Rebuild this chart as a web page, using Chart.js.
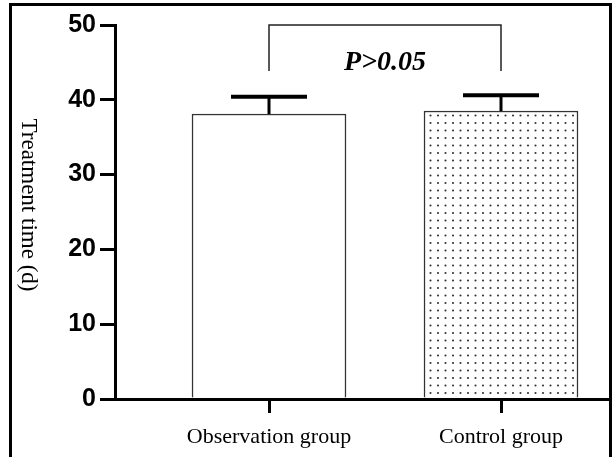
<!DOCTYPE html>
<html><head><meta charset="utf-8">
<script src="https://cdn.jsdelivr.net/npm/chart.js@4"></script>
<style>html,body{margin:0;padding:0;background:#fff}#wrap{width:614px;height:457px;position:relative}</style>
</head><body><div id="wrap"><canvas id="c" width="614" height="457"></canvas></div>
<script>
const categories = ['Observation group', 'Control group'];
const means = [38.1, 38.5];
const sds = [2.3, 2.1];
const yTicks = [0, 10, 20, 30, 40, 50];
const bracketTop = 50;
const bracketLegEnd = 43.85;
const pLabel = 'P>0.05';
const yTitle = 'Treatment time (d)';

function makePattern() {
  const c = document.createElement('canvas');
  c.width = 15; c.height = 15;
  const g = c.getContext('2d');
  g.fillStyle = '#fff'; g.fillRect(0, 0, 15, 15);
  g.fillStyle = '#333';
  [[3, 3], [10.5, 3], [3, 10.5], [10.5, 10.5]].forEach(([x, y]) => {
    g.beginPath(); g.arc(x, y, 1.05, 0, Math.PI * 2); g.fill();
  });
  return document.getElementById('c').getContext('2d').createPattern(c, 'repeat');
}

const extras = {
  id: 'extras',
  afterDatasetsDraw(chart) {
    const ctx = chart.ctx, xs = chart.scales.x, ys = chart.scales.y;
    ctx.save();
    ctx.strokeStyle = '#000';
    means.forEach((m, i) => {
      const x = xs.getPixelForValue(i);
      const yt = ys.getPixelForValue(m + sds[i]);
      const yb = ys.getPixelForValue(m);
      ctx.lineWidth = 3;
      ctx.beginPath(); ctx.moveTo(x, yb); ctx.lineTo(x, yt); ctx.stroke();
      ctx.lineWidth = 4;
      ctx.beginPath(); ctx.moveTo(x - 38, yt); ctx.lineTo(x + 38, yt); ctx.stroke();
    });
    const x0 = xs.getPixelForValue(0), x1 = xs.getPixelForValue(1);
    const bt = ys.getPixelForValue(bracketTop), bl = ys.getPixelForValue(bracketLegEnd);
    ctx.lineWidth = 1.5; ctx.strokeStyle = '#222';
    ctx.beginPath(); ctx.moveTo(x0, bl); ctx.lineTo(x0, bt); ctx.lineTo(x1, bt); ctx.lineTo(x1, bl); ctx.stroke();
    ctx.fillStyle = '#000';
    ctx.font = 'italic bold 28px "Liberation Serif"';
    ctx.textAlign = 'center'; ctx.textBaseline = 'alphabetic';
    ctx.fillText(pLabel, (x0 + x1) / 2, 70);
    ctx.save();
    ctx.translate(22, 205);
    ctx.rotate(Math.PI / 2);
    ctx.font = '23px "Liberation Serif"';
    ctx.fillText(yTitle, 0, 0);
    ctx.restore();
    ctx.lineWidth = 3; ctx.strokeStyle = '#000';
    ctx.strokeRect(10.5, 4.5, 600, 470);
    ctx.restore();
  }
};

new Chart(document.getElementById('c'), {
  type: 'bar',
  data: {
    datasets: [{
      data: means.map((m, i) => ({ x: i, y: m })),
      backgroundColor: ['#ffffff', makePattern()],
      borderColor: '#333',
      borderWidth: 1.5,
      barThickness: 154
    }]
  },
  options: {
    responsive: false,
    animation: false,
    layout: { padding: { left: 0, right: 5, top: 25, bottom: 0 } },
    plugins: { legend: { display: false }, tooltip: { enabled: false } },
    scales: {
      x: {
        type: 'linear',
        offset: false,
        min: -0.6638, max: 1.4655,
        afterBuildTicks: s => { s.ticks = [{ value: 0 }, { value: 1 }]; },
        afterFit: s => { s.height = 58; },
        grid: { offset: false, drawOnChartArea: false, drawTicks: true, tickLength: 14, color: '#000', lineWidth: 3 },
        border: { display: true, color: '#000', width: 3 },
        ticks: {
          autoSkip: false, maxRotation: 0, color: '#000', padding: 11,
          font: { family: 'Liberation Serif', size: 22 },
          callback: v => categories[v]
        }
      },
      y: {
        min: 0, max: 50,
        afterBuildTicks: s => { s.ticks = yTicks.map(v => ({ value: v })); },
        afterFit: s => { s.width = 115; },
        grid: { drawOnChartArea: false, drawTicks: true, tickLength: 15, color: '#000', lineWidth: 3 },
        border: { display: true, color: '#000', width: 3 },
        ticks: { color: '#000', padding: 4, font: { family: 'Liberation Sans', size: 25, weight: 'bold' } }
      }
    }
  },
  plugins: [extras]
});
</script></body></html>
